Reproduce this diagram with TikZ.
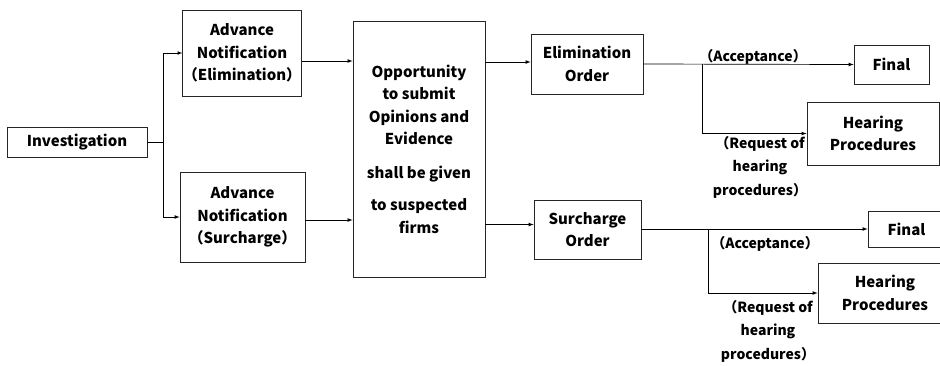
\documentclass[tikz,border=0pt]{standalone}
\usepackage{fontspec}
\setmainfont{Noto Sans CJK JP}
\usetikzlibrary{calc,positioning,shapes,arrows}

\begin{document}
\begin{tikzpicture}[x=1pt,y=-1pt,
    box/.style={draw=black!85, line width=0.8pt, align=center, inner sep=0pt,
                font=\fontsize{15}{22.5}\selectfont\bfseries},
    lab/.style={align=center, inner sep=0pt, font=\fontsize{14}{23.5}\selectfont\bfseries},
    flow/.style={line width=0.7pt, ->, >=latex}]

  \useasboundingbox[fill=white] (0,0) rectangle (940,365);

  % first column
  \node [box, minimum width=140, minimum height=30] (inv) at (77,142) {Investigation};
  \node [box, minimum width=118, minimum height=86] (advelim) at (242,53)
        {Advance\\Notification\\（Elimination）};
  \node [box, minimum width=125, minimum height=90] (advsur) at (242.5,217)
        {Advance\\Notification\\（Surcharge）};

  \node [box, minimum width=132, minimum height=256] (opp) at (419,149)
        {Opportunity\\to submit\\Opinions and\\Evidence\\[11pt]shall be given\\[10pt]to suspected\\firms};

  % orders
  \node [box, minimum width=112, minimum height=60] (elimord) at (587,64) {Elimination\\Order};
  \node [box, minimum width=107, minimum height=59] (surord) at (587.5,229.5) {Surcharge\\Order};

  % results
  \node [box, minimum width=75, minimum height=39] (final1) at (891.5,64.5) {Final};
  \node [box, minimum width=132, minimum height=63] (hear1) at (873,133.5) {Hearing\\Procedures};
  \node [box, minimum width=77, minimum height=36] (final2) at (906.5,229) {Final};
  \node [box, minimum width=134, minimum height=60] (hear2) at (885,293) {Hearing\\Procedures};

  \node [lab] (acc1) at (753,57) {（Acceptance）};
  \node [lab] (req1) at (760,167) {（Request of\\hearing\\procedures）};
  \node [lab] (acc2) at (765,244) {（Acceptance）};
  \node [lab] (req2) at (768,331) {（Request of\\hearing\\procedures）};

  % connectors
  \coordinate (split) at (163,142);
  \draw [line width=0.7pt] (inv.east) -- (split);
  \foreach \n in {advelim,advsur}
    \draw [flow] (split) |- (\n.west);

  \coordinate (ae) at ($(advelim.east)+(0,8)$);
  \coordinate (as) at ($(advsur.east)+(0,3)$);
  \coordinate (eo) at ($(elimord.west)+(0,-2)$);
  \coordinate (so) at ($(surord.west)+(0,-5)$);
  \draw [flow] (ae) -- (ae -| opp.west);
  \draw [flow] (as) -- (as -| opp.west);
  \draw [flow] (eo -| opp.east) -- (eo);
  \draw [flow] (so -| opp.east) -- (so);

  \coordinate (b1) at (702,64);
  \coordinate (b2) at (708,229);
  \draw [flow] (elimord.east) -- (final1.west);
  \draw [flow] (b1) |- (hear1.west);
  \draw [flow] (surord.east |- final2.west) -- (final2.west);
  \draw [flow] (b2) |- (hear2.west);

\end{tikzpicture}
\end{document}
